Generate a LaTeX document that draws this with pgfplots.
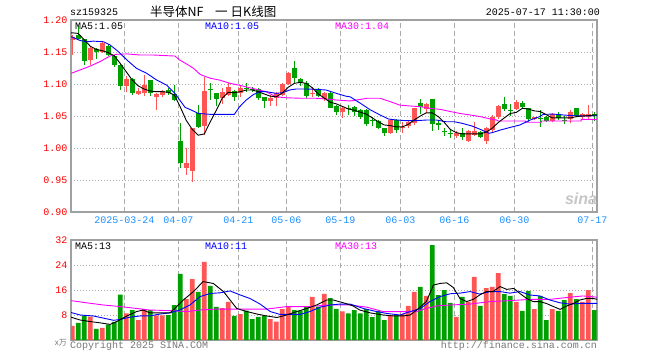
\documentclass[border=0pt]{standalone}
\usepackage{pgfplots}
\pgfplotsset{compat=1.18}
\usepackage{pgfplotstable}
\usepackage{fontspec}
\setmainfont{Liberation Mono}
\newfontfamily\cjk{Noto Sans CJK SC}
\newfontfamily\sinafont{Liberation Sans}
\definecolor{upred}{RGB}{255,85,85}
\definecolor{dngreen}{RGB}{0,160,0}
\definecolor{bordergray}{RGB}{160,160,160}
\definecolor{gridgray}{RGB}{170,170,170}
\definecolor{datecol}{RGB}{30,144,255}
\definecolor{magent}{RGB}{255,0,255}
\definecolor{txtgray}{RGB}{120,120,120}

\pgfplotstableread{
i o h l c v
0 1.169 1.176 1.146 1.173 4.5
3 1.1375 1.159 1.130 1.157 7.5
5 1.150 1.167 1.149 1.1635 3.9
9 1.0975 1.113 1.087 1.1078 8.5
11 1.085 1.0945 1.0825 1.0885 6.4
12 1.0855 1.1145 1.082 1.098 9.8
14 1.080 1.0855 1.060 1.084 7.9
15 1.083 1.091 1.080 1.089 7.9
19 0.9695 1.0005 0.958 0.977 13.1
20 0.964 1.032 0.947 1.0315 19.5
22 1.0344 1.1115 1.020 1.089 25.0
25 1.0785 1.093 1.069 1.088 10.2
26 1.083 1.102 1.082 1.095 12.2
28 1.0855 1.097 1.080 1.0943 8.3
33 1.074 1.083 1.066 1.0785 6.7
34 1.0775 1.0875 1.066 1.0855 5.9
35 1.0835 1.102 1.082 1.0995 9.9
36 1.0995 1.118 1.099 1.1167 10.7
40 1.085 1.095 1.080 1.0865 13.8
42 1.076 1.087 1.073 1.0855 14.8
45 1.0567 1.064 1.0475 1.063 9.2
53 1.023 1.046 1.0215 1.044 7.9
55 1.032 1.041 1.024 1.0335 8.3
56 1.035 1.042 1.031 1.041 10.9
57 1.0385 1.063 1.036 1.0625 15.4
59 1.0605 1.071 1.054 1.069 14.1
64 1.0185 1.026 1.016 1.024 7.4
66 1.0115 1.028 1.010 1.027 12.3
67 1.020 1.040 1.018 1.027 20.2
69 1.0105 1.033 1.0055 1.031 16.6
70 1.028 1.051 1.0255 1.049 17.0
71 1.049 1.067 1.045 1.066 21.4
74 1.061 1.0755 1.059 1.0725 12.2
77 1.0455 1.049 1.044 1.048 9.9
80 1.042 1.054 1.040 1.0525 9.9
83 1.046 1.059 1.0385 1.0565 15.0
85 1.049 1.054 1.046 1.0525 12.2
86 1.049 1.067 1.046 1.0525 16.0
}\up

\pgfplotstableread{
i o h l c v
1 1.177 1.190 1.170 1.171 5.5
2 1.170 1.171 1.129 1.136 7.8
4 1.155 1.157 1.139 1.150 3.6
6 1.160 1.162 1.143 1.146 4.9
7 1.144 1.145 1.1266 1.130 5.8
8 1.130 1.131 1.091 1.0974 14.5
10 1.108 1.110 1.0835 1.0865 9.6
13 1.106 1.107 1.081 1.0855 9.6
16 1.090 1.0935 1.0835 1.0865 8.0
17 1.085 1.098 1.073 1.075 11.2
18 1.0115 1.0385 0.968 0.977 21.2
21 1.055 1.067 1.032 1.0335 15.4
23 1.0925 1.101 1.075 1.0905 17.3
24 1.0855 1.0858 1.066 1.076 10.6
27 1.0895 1.090 1.074 1.079 7.7
29 1.0935 1.101 1.0875 1.092 9.4
30 1.092 1.095 1.088 1.0905 6.7
31 1.092 1.094 1.075 1.0775 7.4
32 1.079 1.080 1.063 1.074 7.8
37 1.1245 1.136 1.101 1.110 9.6
38 1.1078 1.110 1.0975 1.1036 9.4
39 1.101 1.104 1.078 1.082 10.5
41 1.092 1.094 1.079 1.0815 10.7
43 1.0855 1.087 1.062 1.063 13.4
44 1.066 1.067 1.052 1.0567 10.0
46 1.063 1.067 1.052 1.0605 8.5
47 1.0635 1.066 1.050 1.0555 9.6
48 1.0595 1.061 1.046 1.049 8.5
49 1.0595 1.061 1.035 1.037 9.9
50 1.044 1.049 1.035 1.0425 7.3
51 1.042 1.043 1.029 1.0305 9.3
52 1.031 1.032 1.019 1.023 6.4
54 1.044 1.046 1.024 1.028 7.9
58 1.0705 1.076 1.0525 1.0635 17.0
60 1.076 1.077 1.027 1.038 30.4
61 1.0385 1.044 1.028 1.036 14.4
62 1.026 1.031 1.018 1.025 16.0
63 1.0235 1.028 1.015 1.0225 11.9
65 1.024 1.031 1.0125 1.0175 13.8
68 1.025 1.027 1.015 1.0175 10.9
72 1.069 1.080 1.058 1.0605 14.7
73 1.0595 1.0695 1.050 1.058 14.1
75 1.071 1.0735 1.062 1.0635 9.3
76 1.062 1.063 1.041 1.046 15.7
78 1.0475 1.0595 1.033 1.046 14.1
79 1.049 1.050 1.041 1.042 6.4
81 1.0525 1.056 1.044 1.0465 9.3
82 1.043 1.0495 1.037 1.042 12.8
84 1.062 1.063 1.048 1.0505 13.1
87 1.0525 1.0565 1.042 1.050 9.6
}\down

\pgfplotsset{
  kbase/.style={
    scale only axis, width=526pt,
    xmin=-0.217, xmax=87.45,
    axis line style={bordergray, line width=1.2pt},
    major tick length=0pt,
    xmajorgrids, ymajorgrids,
    major x grid style={gridgray, dash pattern=on 5pt off 3pt, line width=1pt},
    major y grid style={gridgray, dash pattern=on 1pt off 2pt, line width=1pt},
    xtick={8.67,17.67,27.67,35.67,44.67,54.67,63.67,73.67,86.67},
    tick label style={font=\fontsize{10}{10}\selectfont},
    yticklabel style={red},
    /pgf/number format/assume math mode=true,
  },
  wick/.style={draw=none, mark=none, forget plot,
    error bars/.cd, y dir=plus, y explicit, error mark=none,
    error bar style={draw=#1, line width=1pt, solid}},
  body/.style={draw=none, mark=none, forget plot,
    error bars/.cd, y dir=plus, y explicit, error mark=none,
    error bar style={draw=#1, line width=4.7pt, solid, line cap=butt}},
}

\begin{document}
\begin{tikzpicture}
\fill[white] (0,0) rectangle (660pt,-360pt);
\useasboundingbox (0,0) rectangle (660pt,-360pt);

% ---------- price panel ----------
\begin{axis}[kbase, at={(71pt,-212pt)}, anchor=south west, height=192pt,
  ymin=0.90, ymax=1.20, ytick={0.9,0.95,1,1.05,1.1,1.15,1.2},
  yticklabel style={/pgf/number format/.cd, fixed, fixed zerofill, precision=2},
  xticklabels={2025-03-24,04-07,04-21,05-06,05-19,06-03,06-16,06-30,07-17},
  xticklabel style={datecol, yshift=-1.5pt},
]
\addplot[wick=upred] table[x=i, y=l, y error expr=\thisrow{h}-\thisrow{l}] {\up};
\addplot[wick=dngreen] table[x=i, y=l, y error expr=\thisrow{h}-\thisrow{l}] {\down};
\addplot[body=upred] table[x=i, y expr={min(\thisrow{o},\thisrow{c})}, y error expr={max(abs(\thisrow{c}-\thisrow{o}),0.0016)}] {\up};
\addplot[body=dngreen] table[x=i, y expr={min(\thisrow{o},\thisrow{c})}, y error expr={max(abs(\thisrow{c}-\thisrow{o}),0.0016)}] {\down};

% MA30
\addplot[magent, line width=0.9pt] coordinates {
(-0.2,1.1167) (1.3,1.122) (3,1.128) (4.6,1.135) (6.3,1.1437) (7.4,1.1464) (9.1,1.147)
(11.3,1.1453) (13.5,1.1453) (15.7,1.1443) (17.1,1.1437) (17.9,1.1375) (19.1,1.131)
(20.2,1.1245) (21.3,1.115) (22.4,1.111) (23,1.109) (24.6,1.106) (26.3,1.101) (27.9,1.098)
(30.1,1.093) (32.3,1.088) (34,1.080) (35.6,1.0785) (37.9,1.0778) (40.6,1.0777) (42.3,1.0766)
(44,1.075) (46.3,1.0735) (48,1.076) (49.1,1.0777) (51.3,1.0777) (53,1.0724) (54.6,1.067)
(56.3,1.0656) (58,1.0646) (59.6,1.062) (61.3,1.0604) (63,1.057) (64.6,1.054) (66.3,1.0516)
(68,1.049) (69.6,1.0455) (70.7,1.0437) (71,1.0422) (75.5,1.0422) (75.5,1.0402) (78.2,1.0402)
(78.2,1.0422) (84.8,1.0422) (84.8,1.0448) (87.5,1.0448)};
% MA10
\addplot[blue, line width=0.9pt] coordinates {
(-0.2,1.174) (1.3,1.168) (2.4,1.166) (3.5,1.167) (5.2,1.166) (6.3,1.161) (7.7,1.1505)
(9.1,1.1375) (10.7,1.1245) (12.4,1.1167) (14.1,1.106) (15.7,1.0984) (17.1,1.0854)
(17.9,1.075) (18.8,1.0635) (19.9,1.059) (21,1.054) (23,1.0526) (27,1.0526) (27.9,1.0646)
(29,1.075) (30.1,1.083) (31.2,1.088) (32.3,1.088) (34,1.0854) (35.1,1.0865) (36.2,1.0906)
(37.3,1.0922) (39,1.0922) (40.6,1.0917) (42.3,1.0906) (44,1.0854) (45.6,1.081) (46.3,1.080)
(48,1.070) (49.6,1.060) (51.3,1.0516) (52.7,1.0453) (54.1,1.0437) (55.7,1.0427) (57.3,1.0427)
(59,1.0437) (60.7,1.0437) (62.3,1.041) (63.7,1.041) (65,1.0385) (66.6,1.0344) (68.3,1.028)
(69.4,1.023) (70,1.024) (71.3,1.028) (72.9,1.032) (74.6,1.036) (76.3,1.0437) (77.9,1.049)
(78.5,1.0526) (80.2,1.053) (81.8,1.0516) (83.5,1.0505) (85.1,1.05) (87.5,1.0505)};
% MA5
\addplot[black, line width=0.9pt] coordinates {
(-0.2,1.180) (0,1.180) (1,1.179) (2,1.169) (3,1.159) (4,1.154) (5,1.152) (6,1.149) (7,1.144)
(8,1.132) (9,1.119) (10,1.106) (11,1.097) (12,1.092) (13,1.089) (14,1.088) (15,1.088)
(16,1.087) (17,1.083) (18,1.064) (19,1.043) (20,1.029) (21,1.020) (22,1.022) (23,1.041)
(24,1.059) (25,1.078) (26,1.087) (27,1.0865) (28,1.088) (29,1.0906) (30,1.0906) (31,1.088)
(32,1.0844) (33,1.081) (34,1.080) (35,1.086) (36,1.095) (37,1.101) (38,1.1026) (39,1.101)
(40,1.094) (41,1.0844) (42,1.078) (43,1.0714) (44,1.069) (45,1.065) (46,1.061) (47,1.059)
(48,1.056) (49,1.053) (50,1.047) (51,1.041) (52,1.036) (53,1.035) (54,1.033) (55,1.033)
(56,1.037) (57,1.044) (58,1.050) (59,1.055) (60,1.055) (61,1.049) (62,1.040) (63,1.029)
(64,1.024) (65,1.022) (66,1.022) (67,1.022) (68,1.022) (69,1.025) (70,1.031) (71,1.040)
(72,1.047) (73,1.054) (74,1.0557) (75,1.062) (76,1.061) (77,1.058) (78,1.057) (79,1.052)
(80,1.047) (81,1.047) (82,1.047) (83,1.047) (84,1.049) (85,1.050) (86,1.0505) (87,1.0516)
(87.5,1.0516)};
\end{axis}

% ---------- volume panel ----------
\begin{axis}[kbase, at={(71pt,-340pt)}, anchor=south west, height=100pt,
  ymin=0, ymax=32, ytick={8,16,24,32},
  xticklabels={},
]
\addplot[ybar, bar shift=0pt, bar width=4.7pt, fill=upred, draw=none, forget plot] table[x=i, y=v] {\up};
\addplot[ybar, bar shift=0pt, bar width=4.7pt, fill=dngreen, draw=none, forget plot] table[x=i, y=v] {\down};
% MA30
\addplot[magent, line width=0.9pt] coordinates {
(-0.2,12.6) (2.4,11.9) (5.2,11.2) (8,10.7) (10.7,10.1) (12.9,9.6) (16.3,9.4) (19.1,9.1)
(21.3,9.6) (24.1,9.9) (32.4,9.9) (35.7,10.7) (39.6,10.7) (42.4,11.2) (46.3,11.2) (49.1,10.5)
(51.8,9.1) (57.4,9.1) (59,10.1) (60.7,10.9) (63,11.2) (66.3,11.5) (69.6,12.3) (72.9,12.6)
(76.3,13.0) (79.6,13.0) (82.9,13.7) (85.1,14.1) (87.5,13.7)};
% MA10
\addplot[blue, line width=0.9pt] coordinates {
(-0.2,8.8) (1.3,8.0) (3.5,7.7) (5.2,7.0) (6.9,6.3) (8,6.6) (9.6,7.3) (11.3,7.7) (12.9,7.7)
(14.6,8.3) (16.3,8.7) (17.9,9.6) (19.6,11.2) (21.3,13.9) (23,14.9) (24.6,15.1) (26.3,15.7)
(28,14.4) (29.6,13.3) (31.3,11.5) (33,9.1) (34.6,8.2) (36.3,8.2) (38,8.2) (39.6,9.1)
(41.3,10.5) (43,11.2) (44.6,11.5) (46.3,11.5) (48.5,10.1) (50.7,9.1) (52.4,8.5) (54.6,8.0)
(56.3,9.1) (58,10.1) (59.6,12.3) (61.3,13.9) (63,14.8) (64.6,15.0) (66.3,15.5) (67.9,14.7)
(69.6,15.5) (71.3,15.5) (72.9,15.0) (74.6,15.5) (76.3,14.4) (77.9,14.1) (79.6,12.8)
(81.3,11.9) (82.9,11.5) (84.6,11.7) (87.5,11.7)};
% MA5
\addplot[black, line width=0.9pt] coordinates {
(-0.2,7.3) (1.3,6.4) (3,5.9) (4.6,5.5) (6.3,5.0) (7.4,5.9) (9.1,7.7) (10.7,9.1) (11.8,9.6)
(12.9,8.7) (14.6,8.7) (16.3,8.7) (17.4,10.7) (18.5,12.8) (20.2,15.5) (21.8,18.7) (23.5,18.1)
(25.2,15.5) (26.3,12.8) (27.4,10.1) (29.1,9.1) (30.8,8.3) (32.4,7.7) (34.1,7.2) (35.7,8.0)
(37.4,9.1) (39.1,10.1) (40.7,11.2) (42.4,12.8) (43.5,12.8) (45.2,11.9) (46.8,10.9) (47.9,9.6)
(49.6,8.7) (51.8,8.0) (53.5,7.7) (55.2,7.7) (56.3,8.0) (57.4,9.6) (59,12.3) (60.2,17.6)
(61.3,18.1) (62.4,18.3) (63.5,16.8) (64.6,13.3) (65.7,12.3) (66.8,13.0) (67.9,14.4) (69,15.5)
(70.1,15.5) (71.3,17.1) (72.4,16.2) (73.6,16.5) (74.6,14.9) (75.7,13.3) (76.8,12.3) (77.9,12.3)
(79,11.7) (80.2,10.7) (81.3,9.8) (82.4,10.9) (83.5,11.7) (84.6,12.8) (85.7,13.3) (86.8,13.3)
(87.5,13.0)};
\end{axis}

% ---------- texts ----------
\begin{scope}[every node/.style={inner sep=0pt, font=\fontsize{10}{10}\selectfont}]
\node[anchor=west] at (70pt,-12pt) {sz159325};
\node[anchor=west, font=\cjk\fontsize{12.5}{12.5}\selectfont] at (150pt,-12pt) {半导体NF};
\node[anchor=west, font=\cjk\fontsize{12.5}{12.5}\selectfont] at (215pt,-12pt) {一\hspace{3pt}日K线图};
\node[anchor=east] at (600pt,-12pt) {2025-07-17 11:30:00};
\node[anchor=west] at (75pt,-26pt) {MA5:1.05};
\node[anchor=west, text=blue] at (205pt,-26pt) {MA10:1.05};
\node[anchor=west, text=magent] at (335pt,-26pt) {MA30:1.04};
\node[anchor=west] at (75pt,-246pt) {MA5:13};
\node[anchor=west, text=blue] at (205pt,-246pt) {MA10:11};
\node[anchor=west, text=magent] at (335pt,-246pt) {MA30:13};
\node[anchor=west, text=txtgray] at (70pt,-346pt) {Copyright 2025 SINA.COM};
\node[anchor=east, text=txtgray] at (597pt,-346pt) {http://finance.sina.com.cn};
\node[anchor=east, text=txtgray, font=\cjk\fontsize{8}{8}\selectfont] at (67pt,-343pt) {x万};
\node[text=gray!45, font=\sinafont\bfseries\itshape\fontsize{16}{16}\selectfont] at (581pt,-199pt) {sina};
\end{scope}
\end{tikzpicture}
\end{document}
